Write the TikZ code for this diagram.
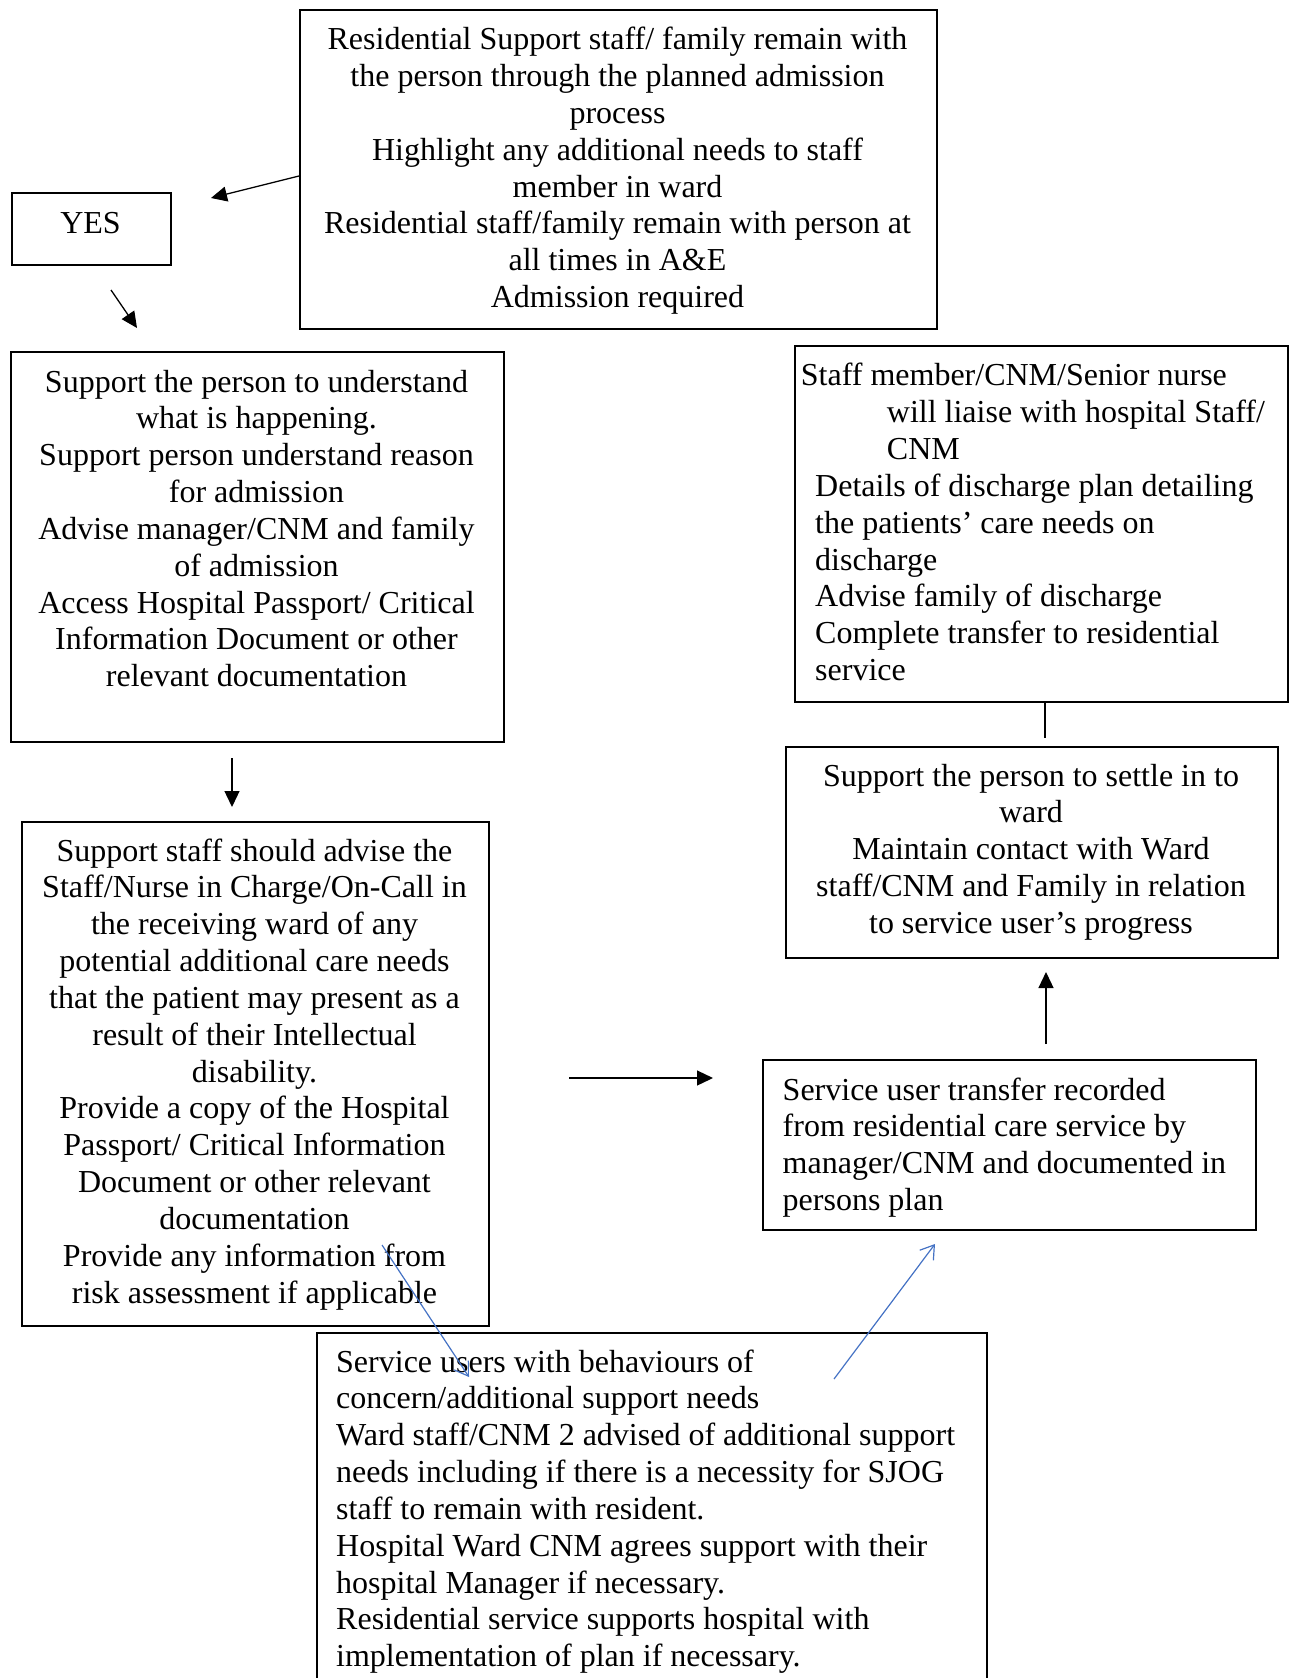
\documentclass[tikz,border=0pt]{standalone}
\usepackage{fontspec}
\setmainfont{Liberation Serif}
\usetikzlibrary{arrows.meta}
\definecolor{wordblue}{RGB}{68,114,196}
\begin{document}
\begin{tikzpicture}[x=1pt,y=-1pt,
  box/.style={draw,line width=1.6pt,inner sep=0pt,anchor=north west},
  txt/.style={inner sep=0pt,font=\fontsize{32pt}{36.85pt}\selectfont},
  arr/.style={line width=1.3pt,-{Triangle[length=16pt,width=15pt]}},
  barr/.style={line width=1.2pt,draw=wordblue,-{Straight Barb[length=13pt,width=17pt,line width=1.2pt]}}]
\useasboundingbox (0,0) rectangle (1291,1678);
\clip (0,0) rectangle (1291,1678);
% boxes
\node[box,minimum width=637pt,minimum height=319pt] (T) at (299,9) {};
\node[box,minimum width=159pt,minimum height=72pt] (Y) at (11,192) {};
\node[box,minimum width=493pt,minimum height=390pt] (S) at (10,351) {};
\node[box,minimum width=467pt,minimum height=504pt] (A) at (21,821) {};
\node[box,minimum width=670pt,minimum height=380pt] (B) at (316,1332) {};
\node[box,minimum width=493pt,minimum height=170pt] (R) at (762,1059) {};
\node[box,minimum width=492pt,minimum height=211pt] (W) at (785,746) {};
\node[box,minimum width=493pt,minimum height=356pt] (M) at (794,345) {};
% texts (base anchor = baseline of the last line)
\node[txt,align=center,anchor=base] (Tt) at (617.5,307.6) {Residential Support staff/ family remain with\\the person through the planned admission\\process\\Highlight any additional needs to staff\\member in ward\\Residential staff/family remain with person at\\all times in A\&E\\Admission required};
\node[txt,anchor=base] (Yt) at (90.5,233) {YES};
\node[txt,align=center,anchor=base] (St) at (256.5,686.8) {Support the person to understand\\what is happening.\\Support person understand reason\\for admission\\Advise manager/CNM and family\\of admission\\Access Hospital Passport/ Critical\\Information Document or other\\relevant documentation};
\node[txt,align=center,anchor=base] (At) at (254.5,1303.2) {Support staff should advise the\\Staff/Nurse in Charge/On-Call in\\the receiving ward of any\\potential additional care needs\\that the patient may present as a\\result of their Intellectual\\disability.\\Provide a copy of the Hospital\\Passport/ Critical Information\\Document or other relevant\\documentation\\Provide any information from\\risk assessment if applicable};
\node[txt,align=left,anchor=base west] (Bt) at (336,1666.8) {Service users with behaviours of\\concern/additional support needs\\Ward staff/CNM 2 advised of additional support\\needs including if there is a necessity for SJOG\\staff to remain with resident.\\Hospital Ward CNM agrees support with their\\hospital Manager if necessary.\\Residential service supports hospital with\\implementation of plan if necessary.};
\node[txt,align=left,anchor=base west] (Rt) at (782.5,1210.6) {Service user transfer recorded\\from residential care service by\\manager/CNM and documented in\\persons plan};
\node[txt,align=center,anchor=base] (Wt) at (1031,933.4) {Support the person to settle in to\\ward\\Maintain contact with Ward\\staff/CNM and Family in relation\\to service user’s progress};
\node[txt,align=left,anchor=base west] (Mt) at (800.7,680.6) {Staff member/CNM/Senior nurse\\\hspace*{86pt}will liaise with hospital Staff/\\\hspace*{86pt}CNM\\\hspace*{14.3pt}Details of discharge plan detailing\\\hspace*{14.3pt}the patients’ care needs on\\\hspace*{14.3pt}discharge\\\hspace*{14.3pt}Advise family of discharge\\\hspace*{14.3pt}Complete transfer to residential\\\hspace*{14.3pt}service};
% connector ends
\coordinate (a1s) at (299,176); \coordinate (a1e) at (211,198);
\coordinate (a2s) at (111,290); \coordinate (a2e) at (137,328);
\coordinate (a3s) at (232,758); \coordinate (a3e) at (232,807);
\coordinate (a4s) at (569,1078); \coordinate (a4e) at (713,1078);
\coordinate (a5s) at (1046,1044); \coordinate (a5e) at (1046,972);
\coordinate (l1s) at (1045,702); \coordinate (l1e) at (1045,738);
\coordinate (b1s) at (382,1245); \coordinate (b1e) at (469,1377);
\coordinate (b2s) at (834,1379); \coordinate (b2e) at (935,1244);
\draw[arr] (a1s) -- (a1e);
\draw[arr] (a2s) -- (a2e);
\draw[arr] (a3s) -- (a3e);
\draw[arr] (a4s) -- (a4e);
\draw[arr] (a5s) -- (a5e);
\draw[line width=1.3pt] (l1s) -- (l1e);
\draw[barr] (b1s) -- (b1e);
\draw[barr] (b2s) -- (b2e);
\end{tikzpicture}
\end{document}
